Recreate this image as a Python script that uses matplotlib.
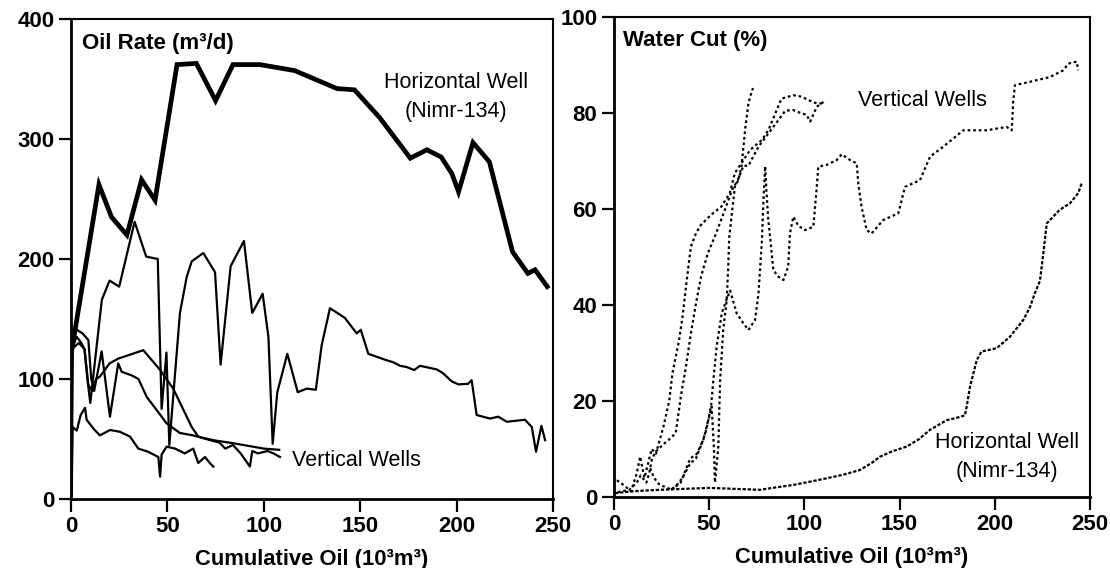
import matplotlib
matplotlib.use("Agg")
import matplotlib.pyplot as plt

plt.rcParams['font.family'] = ['Liberation Sans', 'DejaVu Sans']
plt.rcParams['font.weight'] = 'bold'

# ---------------- Left panel: Oil rate (m3/d) vs cumulative oil ----------------
hz_oil_x = [0.5, 14.5, 21, 29, 36.6, 43.6, 55, 65, 75, 84, 98, 116, 138, 147, 160, 176,
            184.6, 192, 197.6, 201, 208.5, 217, 229, 237, 240.7, 247]
hz_oil_y = [125, 262, 235, 220, 266, 249, 362, 363, 332, 362, 362, 357, 342, 341, 318, 284,
            291, 285, 271, 256, 297, 281, 206, 188, 191, 177]

vwA_x = [0.3, 1, 3, 5, 7, 8.5, 10, 16, 20, 25, 33, 39, 45, 47, 49.5, 51, 56.5, 60, 62.6, 68.6,
         74.7, 77.6, 82.8, 89.7, 94, 99.4, 102.4, 104.6, 107, 112.2, 117.6, 122.3, 127, 130,
         134.3, 142, 148.2, 150.3, 154.2, 163, 167, 170.7, 174, 178, 181, 189.7, 192.8,
         197.5, 201, 206, 207.8, 210.4, 217.3, 221.6, 226, 235.5, 239, 241.2, 244, 245.9]
vwA_y = [3, 128, 135, 131, 125, 100, 80, 166, 182, 177, 231, 202, 200, 75, 122, 45, 155, 185,
         198, 205, 189, 112, 194, 215, 155, 171, 135, 46, 89, 121, 89, 92, 91, 128, 159, 151,
         138, 141, 121, 116, 114, 111, 110, 107.5, 111, 108, 105, 98, 95.5, 96, 99, 70, 67,
         68.6, 64.4, 66, 60, 39.4, 61, 49]

vwB_x = [0.5, 4, 7, 9, 11, 13, 15, 20, 24.5, 37.5, 46, 53, 62.6, 66, 73.8, 84, 94.4, 100, 108]
vwB_y = [125, 130, 125, 95, 90, 100, 102, 113, 117, 124, 108, 92, 60, 52, 49, 46.5, 43.6, 42, 41]

vwC_x = [0.4, 0.8, 3, 5, 7.3, 8.1, 12, 15, 20.2, 25.4, 30.6, 34.9, 40, 45.3, 46.2, 47, 49.6,
         54, 59, 63.4, 66, 69.5, 72, 73.8]
vwC_y = [5, 60, 57, 70, 76, 66, 58, 53, 57.5, 56, 52, 42, 39.4, 35, 18.6, 37, 43.6, 42, 38,
         42, 30, 35, 30, 27]

vwD_x = [1, 3, 6, 9, 10.5, 12, 15.9, 20.2, 24.5, 26.3, 31.5, 35, 39.3, 44.5, 49.6, 56.5, 63.4,
         70, 77, 80, 84, 88, 92.8, 94, 97, 102, 105, 108.4]
vwD_y = [135, 141, 138, 132.5, 100, 90, 123, 68.6, 113, 106, 103, 100, 85, 74, 63, 55, 53,
         50, 47, 42, 45, 38, 27, 40, 38, 40, 38, 35]

# ---------------- Right panel: Water cut (%) vs cumulative oil ----------------
hz_wc_x = [0.5, 10, 24, 37, 50.4, 63, 76.7, 85, 94, 103, 111.7, 120, 129, 135, 139.7, 146,
           153.7, 160, 166, 174.7, 180, 184.3, 185.2, 187, 190.5, 193, 201, 208, 215, 218.5,
           221, 223.7, 225.5, 227.3, 234, 239.5, 243.8, 245.6]
hz_wc_y = [0.8, 1.2, 1.5, 1.7, 1.9, 1.7, 1.5, 2, 2.5, 3.2, 3.9, 4.6, 5.6, 7, 8.4, 9.5,
           10.5, 12, 14, 16, 16.5, 17, 18.8, 23, 28.5, 30.3, 31, 33.4, 36.9, 39.6,
           42.4, 45, 50.8, 57, 59.8, 61.2, 63.3, 65.3]

wc1_x = [1.5, 5, 9, 12, 13.7, 16, 19.8, 22, 26, 29, 30.7, 34.2, 36, 37.8, 39.5, 40.4, 43.1,
         45.7, 51, 56.4, 60.8, 63.5, 67, 71.5, 77.7, 81.2, 84.8, 88, 94.2, 98.6, 102, 106.5,
         110.8]
wc1_y = [3.5, 2.5, 1.2, 5, 8.4, 4, 10, 9, 14.7, 20, 25.8, 32.7, 37.6, 43.8, 49.4, 52.2, 55,
         56.7, 58.8, 60.5, 63.3, 67.5, 69.6, 72.3, 74.4, 76.5, 80, 83, 83.7, 83.4, 82.7, 82,
         82]

wc2_x = [2, 8, 12, 14, 17, 18.5, 20, 22, 26, 29, 32.4, 35.1, 37.8, 40.4, 43.1, 45.7, 49.3,
         53.7, 58.2, 62, 65, 68, 70.6, 75.9, 81.2, 86.5, 90, 94.2, 98, 101.2, 103, 106.5, 110]
wc2_y = [1, 1.5, 3, 4.5, 3, 5, 8, 9.5, 11, 12, 13.3, 20.9, 27.2, 34.1, 40.4, 45.9, 50.8,
         55, 59.8, 64, 66, 69, 69, 73, 75.8, 78.6, 80.5, 80.6, 80, 79.6, 78.2, 81.3, 82.3]

wc3_x = [30, 35, 40, 43.5, 47, 49.5, 51.3, 52.5, 53, 54.8, 55.7, 57.4, 59.2, 60, 60.5, 63.5,
         65.3, 67, 68, 69, 70.6, 72, 73]
wc3_y = [1.5, 3, 8, 9, 12, 16, 18.8, 10, 3, 10.5, 24, 35, 41, 48, 54, 64.7, 66, 69, 73, 77,
         82, 84, 85.2]

wc4_x = [19, 21, 24, 27.7, 30, 33, 36, 40, 43, 46, 48.5, 51, 52.2, 53.9, 56.6, 59, 61, 64.4,
         67.9, 70.6, 74.1, 75.9, 76.8, 77.7, 78.5, 79.4, 80, 81, 83.7, 86, 89, 91.5, 92.4,
         94.2, 96.8, 100.3, 104.7, 106.5, 107.3, 111.7, 117, 119.6, 124, 127.5, 128.3, 130,
         132.7, 135.3, 141.4, 149.3, 152.8, 160.7, 166, 173, 183.5, 195.7, 206.2, 208.9,
         209.7, 210.6, 218.5, 229, 236, 238.6, 243, 243.8]
wc4_y = [6, 4, 2.5, 2, 1.5, 2.5, 4, 7, 8, 11, 14, 19, 24.4, 31.3, 38.3, 41, 43, 38.3, 36.2,
         34.8, 36.9, 42.5, 48, 53.6, 61.9, 68.9, 64, 58, 47.3, 46, 45.2, 48, 54.9, 58.4, 56.5,
         55.6, 56.3, 64.6, 68.8, 69.2, 70.2, 71.4, 70.2, 69.5, 65.3, 60.5, 55.6, 54.9, 57.7,
         59.1, 64.6, 66, 70.9, 73, 76.4, 76.4, 77.1, 76.4, 82.7, 85.8, 86.5, 87.5, 88.9,
         90.3, 90.7, 88.9]

x_ticks = [0, 50, 100, 150, 200, 250]
oil_ticks = [0, 100, 200, 300, 400]
wc_ticks = [0, 20, 40, 60, 80, 100]

fig = plt.figure(figsize=(11.10, 5.68), dpi=100)
ax1 = fig.add_axes([71 / 1110, 1 - 499 / 568, 482 / 1110, 480 / 568])
ax2 = fig.add_axes([614 / 1110, 1 - 497 / 568, 476 / 1110, 480 / 568])

# left panel
ax1.plot(hz_oil_x, hz_oil_y, color='black', lw=3.4, solid_joinstyle='miter')
for xs, ys in [(vwA_x, vwA_y), (vwB_x, vwB_y), (vwC_x, vwC_y), (vwD_x, vwD_y)]:
    ax1.plot(xs, ys, color='black', lw=1.6)
ax1.set_xlim(0, 250)
ax1.set_ylim(0, 400)
ax1.set_yticks(oil_ticks)
ax1.set_xticks(x_ticks)
ax1.text(0.023, 0.95, 'Oil Rate (m³/d)', transform=ax1.transAxes, fontsize=16,
         fontweight='bold', ha='left', va='center')
ax1.text(199.7, 335, 'Horizontal Well\n(Nimr-134)', fontsize=15.5, fontweight='normal',
         ha='center', va='center', linespacing=1.45)
ax1.text(114.6, 32.5, 'Vertical Wells', fontsize=15.5, fontweight='normal',
         ha='left', va='center')

# right panel
dot = (0, (1.2, 1.3))
ax2.plot(hz_wc_x, hz_wc_y, color='black', lw=1.6, linestyle=(0, (1.5, 0.8)))
for xs, ys in [(wc1_x, wc1_y), (wc2_x, wc2_y), (wc3_x, wc3_y), (wc4_x, wc4_y)]:
    ax2.plot(xs, ys, color='black', lw=1.6, linestyle=dot)
ax2.set_xlim(0, 250)
ax2.set_ylim(0, 100)
ax2.set_yticks(wc_ticks)
ax2.set_xticks(x_ticks)
ax2.text(0.019, 0.952, 'Water Cut (%)', transform=ax2.transAxes, fontsize=16,
         fontweight='bold', ha='left', va='center')
ax2.text(128.2, 82.7, 'Vertical Wells', fontsize=15.5, fontweight='normal',
         ha='left', va='center')
ax2.text(206.4, 8.4, 'Horizontal Well\n(Nimr-134)', fontsize=15.5, fontweight='normal',
         ha='center', va='center', linespacing=1.5)

for ax in (ax1, ax2):
    ax.set_xlabel('Cumulative Oil (10³m³)', fontsize=15.8, fontweight='bold', labelpad=9)
    ax.tick_params(axis='both', direction='out', length=9, width=1.6, labelsize=16, pad=3)
    for side in ('left', 'bottom'):
        ax.spines[side].set_linewidth(2.0)
    for side in ('top', 'right'):
        ax.spines[side].set_linewidth(1.5)
    for lab in ax.get_xticklabels() + ax.get_yticklabels():
        lab.set_fontweight('bold')

fig.savefig('out.png', dpi=100)
